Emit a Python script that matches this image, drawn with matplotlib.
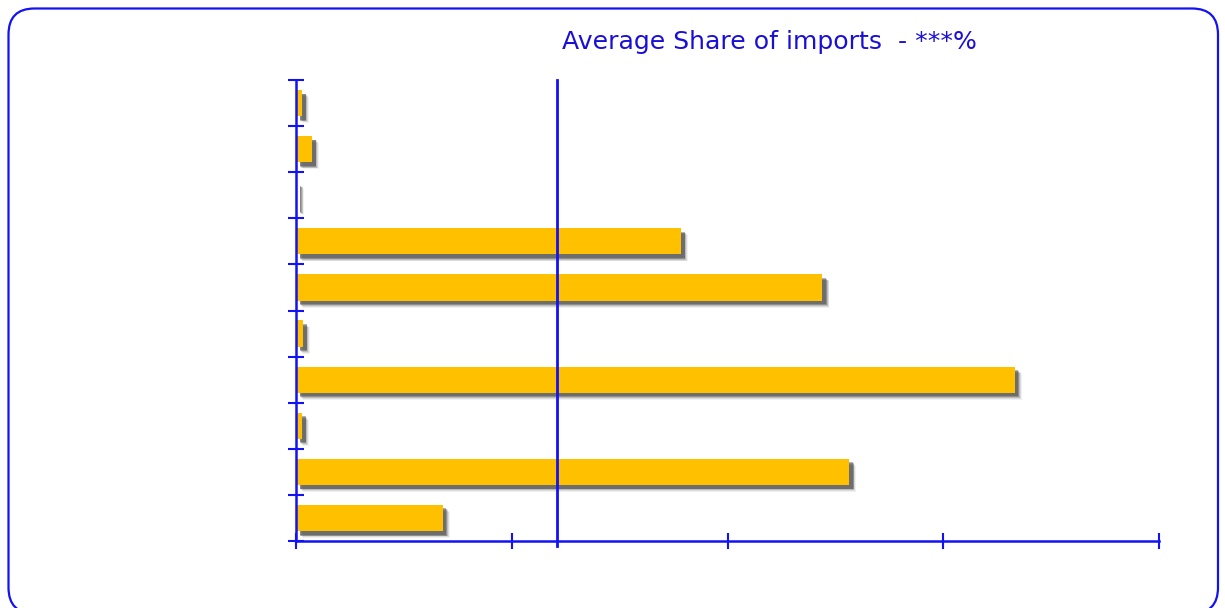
import numpy as np
import matplotlib
matplotlib.use("Agg")
from matplotlib import pyplot as plt
from matplotlib import patheffects
from matplotlib.patches import FancyBboxPatch

# share of imports per item, top to bottom (%)
shares = [0.7, 1.85, 0.15, 44.6, 61.0, 0.8, 83.3, 0.7, 64.1, 17.0]
average_share = 30.2
x_ticks = [0, 25, 50, 75, 100]
title = "Average Share of imports  - ***%"

axis_blue = '#1212f2'
title_blue = '#1a0fd6'
bar_gold = '#FFC000'

W, H = 1225, 608
fig = plt.figure(figsize=(W / 100, H / 100), dpi=100)

# rounded frame drawn in pixel units on a background axes
bg = fig.add_axes([0, 0, 1, 1], zorder=-1)
bg.set_xlim(0, W)
bg.set_ylim(H, 0)
bg.axis('off')
bg.add_patch(FancyBboxPatch((8.5, 8.5), 1209.5, 605, boxstyle="round,pad=0,rounding_size=26",
                            facecolor='white', edgecolor=axis_blue, linewidth=1.6))

ax = fig.add_axes([296 / W, 1 - 541 / H, 863 / W, 461 / H])
ax.set_facecolor('none')

pos = np.arange(len(shares))[::-1]
# soft drop shadow built from a few stacked offsets
shadow = [patheffects.SimplePatchShadow(offset=(o, -o), shadow_rgbFace='#3c3c3c', alpha=a)
          for o, a in [(5.0, 0.07), (4.4, 0.12), (3.8, 0.2), (3.2, 0.35), (2.6, 0.4)]]
ax.barh(pos, shares, height=0.57, color=bar_gold, zorder=2,
        path_effects=shadow + [patheffects.Normal()])

ax.axvline(average_share, ymin=-0.01, ymax=1, color=axis_blue, linewidth=2,
           zorder=3, clip_on=False)

ax.set_xlim(0, 100)
ax.set_ylim(-0.5, len(shares) - 0.5)
ax.set_xticks(x_ticks)
ax.set_yticks(np.arange(-0.5, len(shares), 1.0))
ax.set_xticklabels([])
ax.set_yticklabels([])
ax.tick_params(direction='inout', length=11, width=1.5, color=axis_blue)
for side in ['top', 'right']:
    ax.spines[side].set_visible(False)
for side in ['left', 'bottom']:
    ax.spines[side].set_color(axis_blue)
    ax.spines[side].set_linewidth(1.8)
    ax.spines[side].set_zorder(4)

fig.text(769 / W, 1 - 42 / H, title, color=title_blue, fontsize=18.1,
         ha='center', va='center', family='DejaVu Sans')

fig.savefig('out.png', dpi=100)
